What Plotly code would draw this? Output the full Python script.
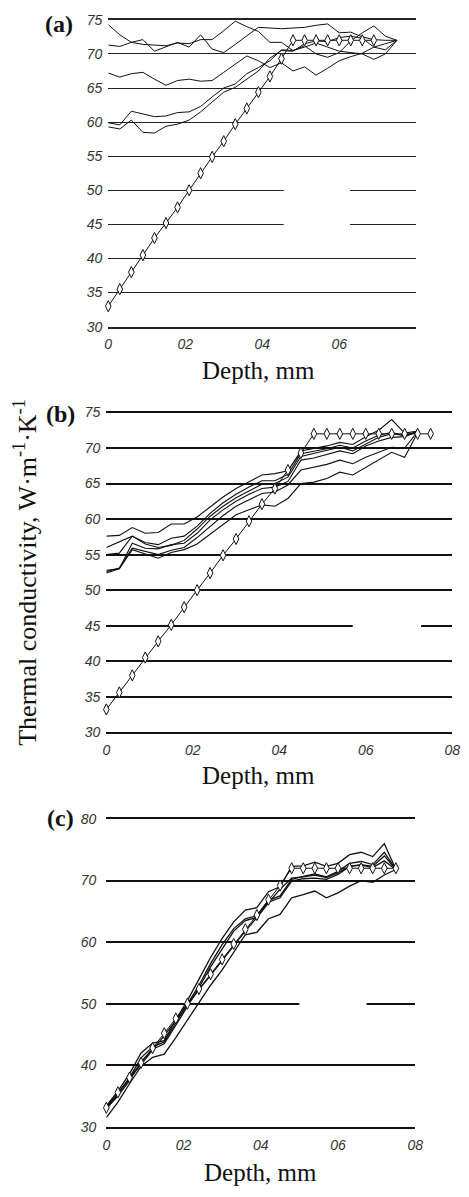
import plotly.graph_objects as go

# ---------------- data ----------------
depth = [0.00, 0.03, 0.06, 0.09, 0.12, 0.15, 0.18, 0.21, 0.24, 0.27, 0.30, 0.33, 0.36,
         0.39, 0.42, 0.45, 0.48, 0.51, 0.54, 0.57, 0.60, 0.63, 0.66, 0.69, 0.72, 0.75]

x_ticks_a = [0, 0.2, 0.4, 0.6]
x_ticktext_a = ["0", "02", "04", "06"]
x_ticks_bc = [0, 0.2, 0.4, 0.6, 0.8]
x_ticktext_bc = ["0", "02", "04", "06", "08"]

# panel (a)
a_model = [33.0, 35.5, 38.0, 40.5, 43.0, 45.2, 47.5, 50.0, 52.5, 54.9, 57.2, 59.7, 62.0,
           64.4, 66.7, 69.3, 72.0, 72.0, 72.0, 72.0, 72.0, 72.0, 72.0, 72.0]
a_s1 = [74.3, 72.8, 71.7, 71.4, 71.3, 71.2, 71.6, 71.5, 72.1, 72.1, 73.4, 74.8, 74.0,
        73.3, 71.7, 71.7, 70.5, 71.2, 70.0, 69.5, 70.2, 71.9, 73.1, 74.1, 72.6, 72.0]
a_s2 = [71.3, 71.1, 71.7, 72.1, 70.4, 71.0, 71.7, 71.0, 72.8, 70.7, 70.2, 71.4, 72.6,
        73.9, 73.8, 73.7, 73.8, 73.9, 74.2, 74.4, 73.1, 73.2, 72.5, 72.1, 72.0, 72.0]
a_s3 = [67.2, 66.6, 67.1, 67.3, 66.3, 65.4, 66.1, 66.3, 66.0, 66.1, 67.3, 68.5, 69.7,
        69.0, 68.0, 68.7, 67.5, 68.1, 66.9, 67.9, 69.0, 69.6, 70.1, 71.0, 71.5, 72.0]
a_s4 = [59.9, 59.6, 61.6, 61.2, 60.8, 60.9, 61.4, 61.5, 62.3, 63.7, 65.0, 65.6, 67.1,
        68.0, 69.0, 70.6, 70.5, 71.0, 71.6, 71.0, 70.4, 70.2, 70.0, 69.2, 70.0, 72.0]
a_s5 = [59.3, 59.0, 60.3, 58.5, 58.4, 59.4, 59.7, 60.3, 61.5, 63.0, 64.4, 65.1, 66.3,
        67.5, 69.4, 70.5, 70.4, 71.5, 71.9, 71.8, 72.4, 72.6, 72.3, 71.0, 70.6, 72.0]

# panel (b)
b_model = [33.2, 35.6, 38.0, 40.5, 42.8, 45.1, 47.6, 50.0, 52.4, 54.9, 57.2, 59.7, 62.1,
           64.3, 66.9, 69.3, 72.0, 72.0, 72.0, 72.0, 72.0, 72.0, 72.0, 72.0, 72.0, 72.0]
b_s1 = [57.6, 57.7, 58.8, 58.0, 58.1, 59.3, 59.3, 60.3, 61.7, 63.1, 64.3, 65.3, 66.2,
        66.4, 66.8, 69.6, 69.9, 70.3, 70.8, 70.5, 71.6, 72.5, 74.0, 72.1, 72.4]
b_s2 = [56.0, 56.8, 57.6, 56.7, 56.4, 57.3, 57.6, 59.0, 60.8, 62.3, 63.5, 64.5, 65.4,
        65.4, 66.3, 69.2, 69.5, 69.9, 70.4, 70.0, 71.0, 71.8, 72.2, 71.7, 72.4]
b_s3 = [55.0, 55.2, 57.6, 56.5, 56.0, 56.3, 57.0, 58.6, 60.4, 61.8, 63.0, 64.0, 64.9,
        65.0, 65.9, 68.8, 69.2, 69.6, 70.1, 69.6, 70.6, 71.5, 72.0, 71.8, 72.3]
b_s4 = [52.8, 53.0, 56.6, 55.9, 55.8, 56.4, 56.6, 58.0, 59.9, 61.3, 62.5, 63.5, 64.3,
        64.5, 65.3, 68.3, 68.6, 69.1, 69.6, 69.2, 70.3, 71.0, 71.5, 71.6, 72.3]
b_s5 = [52.6, 53.1, 55.9, 55.4, 55.0, 55.6, 56.0, 57.4, 59.0, 60.5, 61.8, 62.7, 63.6,
        63.8, 64.8, 66.9, 67.3, 67.7, 68.3, 67.8, 68.7, 69.4, 70.1, 70.0, 72.3]
b_s6 = [52.4, 53.0, 55.7, 55.1, 54.5, 55.3, 55.7, 56.5, 57.9, 59.3, 60.6, 61.3, 62.0,
        61.8, 62.9, 65.0, 65.2, 65.7, 66.6, 66.2, 67.3, 68.3, 69.4, 68.7, 72.2]

# panel (c)
c_model = [33.1, 35.6, 38.0, 40.4, 42.8, 45.2, 47.6, 50.0, 52.4, 54.8, 57.2, 59.7, 62.1,
           64.4, 66.9, 69.2, 72.0, 72.0, 72.0, 72.0, 72.0, 72.0, 72.0, 72.0, 72.0, 72.0]
c_s1 = [33.4, 35.8, 38.6, 42.0, 43.6, 44.0, 47.4, 50.5, 54.0, 57.5, 60.6, 63.3, 65.2,
        65.6, 68.2, 69.0, 72.3, 72.4, 73.0, 72.3, 72.8, 74.2, 74.6, 73.9, 76.0, 71.8]
c_s2 = [32.8, 35.3, 38.0, 41.2, 43.0, 43.8, 46.8, 49.8, 53.0, 56.5, 59.6, 62.2, 63.8,
        64.3, 66.8, 67.5, 70.2, 70.7, 71.1, 70.6, 71.5, 72.8, 73.1, 72.6, 74.6, 71.8]
c_s3 = [33.0, 35.0, 37.5, 40.6, 42.6, 43.5, 46.5, 49.5, 52.6, 56.0, 59.0, 61.8, 63.5,
        64.0, 66.5, 67.2, 69.9, 70.3, 70.4, 70.2, 71.0, 72.3, 72.6, 72.3, 74.0, 71.8]
c_s4 = [33.3, 35.4, 37.8, 40.1, 42.5, 44.8, 47.3, 49.9, 52.3, 54.6, 57.0, 59.4, 61.8,
        64.0, 66.4, 68.6, 70.4, 70.6, 70.9, 70.5, 71.3, 72.3, 72.5, 72.1, 73.2, 71.8]
c_s5 = [31.5, 34.0, 37.0, 39.8, 41.3, 41.8, 44.5, 47.4, 50.2, 53.0, 55.5, 58.4, 61.2,
        61.6, 63.8, 64.5, 67.2, 67.7, 68.3, 67.2, 68.0, 69.1, 70.0, 69.7, 70.9, 71.8]

# ---------------- figure ----------------
W, H = 469, 1197


def fx(p):
    return p / W


def fy(p):
    return 1 - p / H


fig = go.Figure()

panels = [
    ("x", "y", [a_s1, a_s2, a_s3, a_s4, a_s5], a_model, 1.0),
    ("x2", "y2", [b_s1, b_s2, b_s3, b_s4, b_s5, b_s6], b_model, 1.1),
    ("x3", "y3", [c_s1, c_s2, c_s3, c_s4, c_s5], c_model, 1.3),
]

for xa, ya, series, model, lw in panels:
    for s in series:
        fig.add_trace(go.Scatter(
            x=depth[:len(s)], y=s, xaxis=xa, yaxis=ya, mode="lines",
            line=dict(color="#111111", width=lw), cliponaxis=False,
            hoverinfo="skip"))
    fig.add_trace(go.Scatter(
        x=depth[:len(model)], y=model, xaxis=xa, yaxis=ya, mode="lines+markers",
        line=dict(color="#111111", width=1),
        marker=dict(symbol="diamond-tall", size=8, color="white",
                    line=dict(color="#111111", width=1)),
        cliponaxis=False, hoverinfo="skip"))

tickfont = dict(family="Liberation Sans", size=14, color="#333333", style="italic")

xdom = {
    "a": [fx(107), fx(423)],
    "b": [fx(105), fx(460)],
    "c": [fx(105), fx(422)],
}
ydom = {
    "a": [fy(323), fy(12)],
    "b": [fy(734), fy(410)],
    "c": [fy(1134), fy(822)],
}

xcommon = dict(range=[0, 0.8], showgrid=False, zeroline=False, showline=True,
               mirror=True, ticks="", tickfont=tickfont, ticklabelstandoff=4)
ycommon = dict(showgrid=True, zeroline=False, showline=False, ticks="",
               tickfont=tickfont)

fig.update_layout(
    width=W, height=H, margin=dict(l=0, r=0, t=0, b=0),
    paper_bgcolor="white", plot_bgcolor="white", showlegend=False,
    xaxis=dict(xcommon, domain=xdom["a"], anchor="y", tickvals=x_ticks_a,
               ticktext=x_ticktext_a, linecolor="#222222", linewidth=1.5),
    yaxis=dict(ycommon, domain=ydom["a"], anchor="x", range=[30, 75],
               tickvals=[30, 35, 40, 45, 50, 55, 60, 65, 70, 75],
               gridcolor="#222222", gridwidth=1.2, ticklabelstandoff=5),
    xaxis2=dict(xcommon, domain=xdom["b"], anchor="y2", tickvals=x_ticks_bc,
                ticktext=x_ticktext_bc, linecolor="#111111", linewidth=2),
    yaxis2=dict(ycommon, domain=ydom["b"], anchor="x2", range=[30, 75],
                tickvals=[30, 35, 40, 45, 50, 55, 60, 65, 70, 75],
                gridcolor="#111111", gridwidth=2, ticklabelstandoff=5),
    xaxis3=dict(xcommon, domain=xdom["c"], anchor="y3", tickvals=x_ticks_bc,
                ticktext=x_ticktext_bc, linecolor="#111111", linewidth=2),
    yaxis3=dict(ycommon, domain=ydom["c"], anchor="x3", range=[30, 80],
                tickvals=[30, 40, 50, 60, 70, 80],
                gridcolor="#111111", gridwidth=2, ticklabelstandoff=9),
)

# gaps in the grid lines (erased legend boxes in the original)
gaps = [("x", "y", 0.456, 0.628, 43.5, 51.5),
        ("x2", "y2", 0.570, 0.728, 44.0, 46.0),
        ("x3", "y3", 0.500, 0.674, 48.0, 52.0)]
for xr, yr, gx0, gx1, gy0, gy1 in gaps:
    fig.add_shape(type="rect", xref=xr, yref=yr, x0=gx0, x1=gx1, y0=gy0, y1=gy1,
                  fillcolor="white", line=dict(width=0), layer="between")

serif = "Liberation Serif"
annots = [
    dict(text="<b>(a)</b>", x=fx(56), y=fy(16), size=24),
    dict(text="<b>(b)</b>", x=fx(58), y=fy(412), size=24),
    dict(text="<b>(c)</b>", x=fx(58), y=fy(821), size=24),
    dict(text="Depth, mm", x=fx(261), y=fy(367), size=25),
    dict(text="Depth, mm", x=fx(261), y=fy(778), size=25),
    dict(text="Depth, mm", x=fx(263), y=fy(1180), size=25),
]
for a in annots:
    fig.add_annotation(text=a["text"], x=a["x"], y=a["y"], xref="paper", yref="paper",
                       xanchor="center", yanchor="middle", showarrow=False,
                       font=dict(family=serif, size=a["size"], color="#111111"))

fig.add_annotation(text="Thermal conductivity, W·m<sup>-1</sup>·K<sup>-1</sup>",
                   x=fx(22), y=fy(572), xref="paper", yref="paper", textangle=-90,
                   xanchor="center", yanchor="middle", showarrow=False,
                   font=dict(family=serif, size=26, color="#111111"))

fig.write_html("out.html")
